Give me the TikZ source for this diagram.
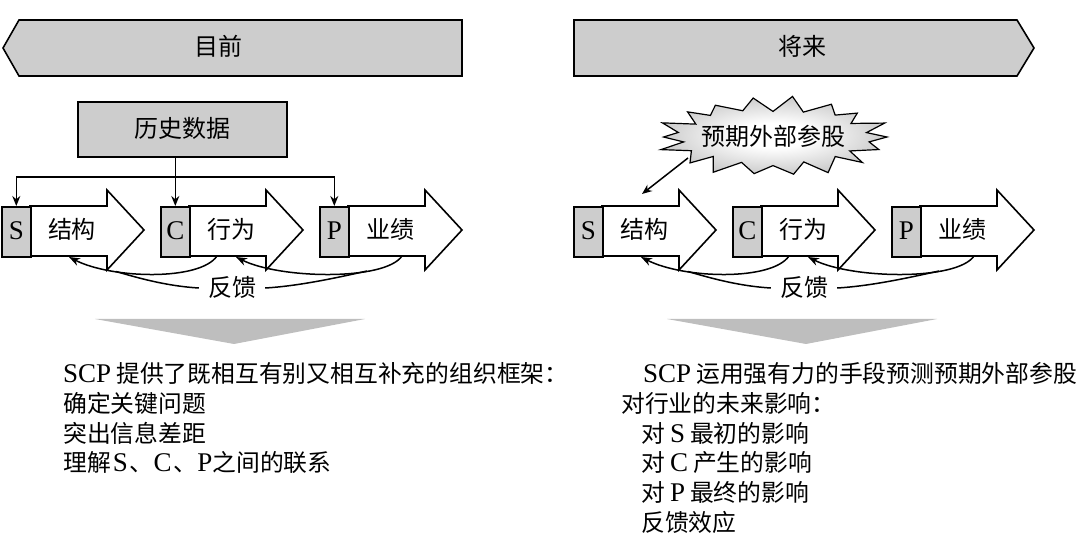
\documentclass[tikz,border=0pt]{standalone}
\usepackage{fontspec}
\setmainfont{Noto Sans CJK SC}
\newfontfamily\latf{Liberation Serif}
\usetikzlibrary{arrows.meta}
\newcommand\La[1]{{\latf\fontsize{27}{27}\selectfont #1}}
\definecolor{boxgray}{RGB}{205,205,205}
\definecolor{trigray}{RGB}{190,190,190}
\pgfdeclareradialshading{starshade}{\pgfpoint{0bp}{0bp}}{color(0bp)=(white); color(8bp)=(white); color(50bp)=(black!50)}
\newcommand\scpunit[4]{%
  \draw[body] (#1+29,206) -- (#1+106,206) -- (#1+106,190) -- (#1+143,230) -- (#1+106,270) -- (#1+106,256) -- (#1+29,256) -- cycle;
  \node[letterbox] (#4g) at (#1,206) {\La{#2}};
  \node[lbl] (#4t) at (#1+71,230) {#3};
}
\newcommand\scptriad{%
  \scpunit{1}{S}{结构}{S}%
  \scpunit{160}{C}{行为}{C}%
  \scpunit{319}{P}{业绩}{P}%
  \coordinate (Cout) at (217,256);
  \coordinate (Sin) at (69,257);
  \coordinate (Pout) at (402,256);
  \coordinate (Cin) at (236,257);
  \coordinate (Smerge) at (116,271.5);
  \coordinate (Cmerge) at (367,271);
  \node[lbl, inner xsep=9pt] (fb) at (232,288) {反馈};
  \draw[fbline, -{Stealth[length=11pt,width=8pt]}] (Cout) .. controls (200,281) and (112,279) .. (Sin);
  \draw[fbline] (fb.west) .. controls (165,286) and (135,277) .. (Smerge);
  \draw[fbline, -{Stealth[length=11pt,width=8pt]}] (Pout) .. controls (385,281) and (280,279) .. (Cin);
  \draw[fbline] (fb.east) .. controls (300,286) and (340,277) .. (Cmerge);
}
\begin{document}
\begin{tikzpicture}[x=1pt,y=-1pt,
  banner/.style={draw, fill=boxgray, line width=1.6pt},
  lbl/.style={inner sep=0pt, font=\fontsize{24}{28}\selectfont, text height=20pt, text depth=3pt},
  graybox/.style={draw, fill=boxgray, line width=1.6pt, inner sep=0pt, text height=20pt, text depth=3pt, font=\fontsize{24}{28}\selectfont},
  letterbox/.style={draw, fill=boxgray, line width=1.6pt, inner sep=0pt, minimum width=29pt, minimum height=50pt, anchor=north west, text height=19pt, text depth=3pt},
  body/.style={draw, fill=white, line width=1.6pt},
  conn/.style={line width=1.5pt, -{Stealth[length=10pt,width=8pt]}},
  fbline/.style={line width=1.5pt},
  btxt/.style={anchor=west, inner sep=0pt, font=\fontsize{23.8}{28}\selectfont, text height=20pt, text depth=3pt}
]
\useasboundingbox (0,0) rectangle (1080,553);
% banners
\draw[banner] (3,48) -- (19,20) -- (462,20) -- (462,76) -- (19,76) -- cycle;
\node[lbl] (now) at (218,47) {目前};
\draw[banner] (574,20) -- (1017,20) -- (1034,48) -- (1017,76) -- (574,76) -- cycle;
\node[lbl] (fut) at (802,47) {将来};
% triads
\begin{scope}[name prefix=l-]
  \scptriad
\end{scope}
\begin{scope}[xshift=572pt, name prefix=r-]
  \scptriad
\end{scope}
% history data
\node[graybox, minimum width=209pt, minimum height=55pt] (hist) at (182.5,129.5) {历史数据};
\coordinate (jn) at (0,177);
\draw[conn] (hist.south -| l-Cg.north) -- (l-Cg.north);
\draw[line width=1.5pt, {Stealth[length=10pt,width=8pt]}-{Stealth[length=10pt,width=8pt]}] (l-Sg.north) -- (l-Sg.north |- jn) -- (l-Pg.north |- jn) -- (l-Pg.north);
% starburst
\shadedraw[shading=starshade, draw=black, line width=1.2pt]
  plot[samples at={0,...,35}, variable=\i]
  ({773+ifthenelse(mod(\i,2)==0,114,93)*(1+0.05*sin(\i*97))*cos(\i*10)},
   {137+ifthenelse(mod(\i,2)==0,39,27)*(1+0.06*sin(\i*131))*sin(\i*10)}) -- cycle;
\node[lbl] (ext) at (773,137) {预期外部参股};
\coordinate (sa) at (688,158);
\coordinate (sb) at (642,194);
\draw[conn] (sa) -- (sb);
% down triangles
\fill[trigray] (95,319) -- (365,319) -- (234,344) -- cycle;
\fill[trigray] (667,319) -- (937,319) -- (806,344) -- cycle;
% left text
\node[btxt] (t1) at (63,374) {\La{SCP}\hspace{5pt}提供了既相互有别又相互补充的组织框架：};
\node[btxt] (t2) at (63,403.8) {确定关键问题};
\node[btxt] (t3) at (63,433.6) {突出信息差距};
\node[btxt] (t4) at (63,463.4) {理解\hspace{2pt}\La{S}\hspace{2pt}、\La{C}\hspace{2pt}、\La{P}之间的联系};
% right text
\node[btxt] (u1) at (643,374) {\La{SCP}\hspace{5pt}运用强有力的手段预测预期外部参股};
\node[btxt] (u2) at (621,403.8) {对行业的未来影响：};
\node[btxt] (u3) at (641,433.6) {对\hspace{5pt}\La{S}\hspace{5pt}最初的影响};
\node[btxt] (u4) at (641,463.4) {对\hspace{5pt}\La{C}\hspace{5pt}产生的影响};
\node[btxt] (u5) at (641,493.2) {对\hspace{5pt}\La{P}\hspace{5pt}最终的影响};
\node[btxt] (u6) at (641,523) {反馈效应};
\end{tikzpicture}
\end{document}
